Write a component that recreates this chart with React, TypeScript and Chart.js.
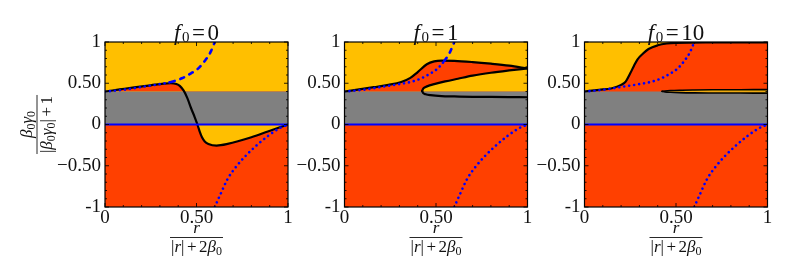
import { useEffect, useRef } from "react";
import { Chart, registerables } from "chart.js";

Chart.register(...registerables);

const W = 793;
const H = 277;

// ---------------- data ----------------
const xMajorTicks = [0, 0.5, 1];
const xTickLabels = ["0", "0.50", "1"];
const xMinorTicks = [0.1, 0.2, 0.3, 0.4, 0.6, 0.7, 0.8, 0.9];
const yMajorTicks = [-1, -0.5, 0, 0.5, 1];
const yTickLabels = ["-1", "\u22120.50", "0", "0.50", "1"];
const yMinorTicks = [-0.9, -0.8, -0.7, -0.6, -0.4, -0.3, -0.2, -0.1, 0.1, 0.2, 0.3, 0.4, 0.6, 0.7, 0.8, 0.9];

const panelF0 = ["0", "1", "10"];

const edgeX = [0, 1];
const ceilingY = [1, 1];
const greyTopY = [0.4, 0.4];
const zeroY = [0, 0];
const yFloor = -1;
const yCeil = 1;
const greyBandTop = 0.4;
const greyBandBottom = 0;

// blue guide curves (same in all panels)
const upperBlueX = [0, 0.1, 0.2, 0.3, 0.36, 0.42, 0.47, 0.51, 0.545, 0.575, 0.6];
const upperBlueY = [0.4, 0.42, 0.455, 0.49, 0.515, 0.56, 0.62, 0.68, 0.77, 0.87, 1.0];
const lowerBlueX = [0.6, 0.63, 0.67, 0.71, 0.76, 0.82, 0.89, 0.95, 1];
const lowerBlueY = [-1, -0.85, -0.66, -0.53, -0.4, -0.27, -0.14, -0.05, 0];
// x from which the upper blue curve is dashed instead of dotted
const dashFromX = [0.36, 0.545, Infinity];

// f0 = 0
const f0X = [0, 0.08, 0.16, 0.25, 0.32, 0.36, 0.39, 0.41, 0.43, 0.45, 0.47, 0.49, 0.505, 0.518, 0.53, 0.545, 0.565, 0.61, 0.67, 0.8, 0.89, 1];
const f0Y = [0.4, 0.425, 0.45, 0.475, 0.495, 0.5, 0.49, 0.465, 0.41, 0.32, 0.2, 0.09, 0, -0.09, -0.155, -0.205, -0.235, -0.255, -0.235, -0.155, -0.085, 0];

// f0 = 1
const f1UpperX = [0, 0.08, 0.16, 0.24, 0.31, 0.36, 0.4, 0.45, 0.49, 0.53, 0.6, 0.7, 0.8, 0.9, 1];
const f1UpperY = [0.4, 0.425, 0.452, 0.48, 0.515, 0.565, 0.635, 0.73, 0.765, 0.775, 0.772, 0.757, 0.737, 0.713, 0.68];
const f1InnerX = [0.424, 0.43, 0.443, 0.465, 0.49, 0.55, 0.62, 0.7, 0.8, 0.9, 1];
const f1InnerY = [0.405, 0.435, 0.455, 0.474, 0.49, 0.522, 0.555, 0.592, 0.627, 0.655, 0.68];
const f1LowerX = [0.424, 0.43, 0.443, 0.47, 0.53, 0.6, 0.7, 0.8, 0.9, 1];
const f1LowerY = [0.405, 0.38, 0.367, 0.355, 0.343, 0.34, 0.336, 0.334, 0.332, 0.33];

// f0 = 10
const f10UpperX = [0, 0.08, 0.15, 0.2, 0.225, 0.25, 0.27, 0.29, 0.32, 0.35, 0.4, 0.45, 0.5, 0.7, 1];
const f10UpperY = [0.4, 0.42, 0.44, 0.48, 0.52, 0.62, 0.71, 0.79, 0.86, 0.915, 0.96, 0.982, 0.99, 0.995, 0.996];
const f10SliverX = [0.424, 0.44, 0.47, 0.52, 0.6, 0.7, 0.85, 1];
const f10SliverTopY = [0.402, 0.407, 0.412, 0.416, 0.419, 0.421, 0.422, 0.423];
const f10SliverBotY = [0.402, 0.395, 0.39, 0.386, 0.383, 0.382, 0.381, 0.38];

// ---------------- styles / layout ----------------
const RED = "#FF4000";
const YELLOW = "#FFBF00";
const GREY = "#808080";
const BLUE = "#0000FF";
const BLACK = "#000000";
const TEXT = "#111111";
const SERIF = '"Liberation Serif"';
const DOTTED = [0.01, 5];
const DASHED = [4, 6];

const PLOT_LEFT = [105, 344.5, 584.5];
const PLOT_WIDTH = 183;
const PLOT_TOP = 42;
const PLOT_BOTTOM = 207;
const Y_AXIS_W = 50;
const X_AXIS_H = 30;

const pts = (xs: number[], ys: number[]) => xs.map((x, i) => ({ x, y: ys[i] }));

const areaDs = (data: any[], fill: any, color: string) => ({
  data,
  fill,
  backgroundColor: color,
  borderWidth: 0,
  pointRadius: 0,
  cubicInterpolationMode: "monotone",
});

const strokeDs = (data: any[], color: string, width: number, extra: any = {}) => ({
  data,
  fill: false,
  borderColor: color,
  borderWidth: width,
  pointRadius: 0,
  cubicInterpolationMode: "monotone",
  borderCapStyle: "round",
  borderJoinStyle: "round",
  ...extra,
});

function blueLayers(panel: number) {
  const split = dashFromX[panel];
  return [
    strokeDs(pts(edgeX, zeroY), BLUE, 2.2),
    strokeDs(pts(lowerBlueX, lowerBlueY), BLUE, 2.6, { borderDash: DOTTED }),
    strokeDs(pts(upperBlueX, upperBlueY), BLUE, 2.6, {
      borderDash: DOTTED,
      segment: {
        borderDash: (c: any) => (c.p0.parsed.x >= split - 1e-9 ? DASHED : DOTTED),
      },
    }),
  ];
}

function panelLayers(panel: number) {
  const base = areaDs(pts(edgeX, ceilingY), { value: yFloor }, RED);
  const grey = areaDs(pts(edgeX, greyTopY), { value: greyBandBottom }, GREY);
  if (panel === 0) {
    return [
      base,
      areaDs(pts(edgeX, ceilingY), { value: greyBandTop }, YELLOW),
      areaDs(pts(f0X, f0Y), { target: { value: greyBandTop }, above: RED, below: YELLOW }, RED),
      grey,
      strokeDs(pts(f0X, f0Y), BLACK, 2.2),
      ...blueLayers(panel),
    ];
  }
  if (panel === 1) {
    return [
      base,
      areaDs(pts(edgeX, ceilingY), { value: greyBandTop }, YELLOW),
      areaDs(pts(f1UpperX, f1UpperY), { value: greyBandTop }, RED),
      areaDs(pts(f1InnerX, f1InnerY), { value: greyBandTop }, YELLOW),
      grey,
      strokeDs(pts(f1UpperX, f1UpperY), BLACK, 2.2),
      strokeDs(pts(f1InnerX, f1InnerY), BLACK, 2.2),
      strokeDs(pts(f1LowerX, f1LowerY), BLACK, 2.2),
      ...blueLayers(panel),
    ];
  }
  return [
    base,
    areaDs(pts(f10UpperX, f10UpperY), { value: yCeil }, YELLOW),
    grey,
    areaDs(pts(f10SliverX, f10SliverTopY), { value: greyBandTop }, YELLOW),
    areaDs(pts(f10SliverX, f10SliverBotY), { value: greyBandTop }, YELLOW),
    strokeDs(pts(f10UpperX, f10UpperY), BLACK, 2.2),
    strokeDs(pts(f10SliverX, f10SliverTopY), BLACK, 1.6),
    strokeDs(pts(f10SliverX, f10SliverBotY), BLACK, 1.6),
    ...blueLayers(panel),
  ];
}

// frame + inward tick marks on all four sides
const framePlugin = {
  id: "frameTicks",
  afterDatasetsDraw(chart: any) {
    const { ctx, chartArea: a, scales } = chart;
    const xs = scales.x;
    const ys = scales.y;
    ctx.save();
    ctx.strokeStyle = "rgba(0,0,0,0.85)";
    ctx.lineWidth = 1;
    ctx.beginPath();
    const xt = (v: number, len: number) => {
      const px = xs.getPixelForValue(v);
      ctx.moveTo(px, a.bottom);
      ctx.lineTo(px, a.bottom - len);
      ctx.moveTo(px, a.top);
      ctx.lineTo(px, a.top + len);
    };
    const yt = (v: number, len: number) => {
      const py = ys.getPixelForValue(v);
      ctx.moveTo(a.left, py);
      ctx.lineTo(a.left + len, py);
      ctx.moveTo(a.right, py);
      ctx.lineTo(a.right - len, py);
    };
    xMajorTicks.forEach((v) => xt(v, 4));
    xMinorTicks.forEach((v) => xt(v, 2));
    yMajorTicks.forEach((v) => yt(v, 4));
    yMinorTicks.forEach((v) => yt(v, 2));
    ctx.stroke();
    ctx.strokeStyle = BLACK;
    ctx.lineWidth = 1.2;
    ctx.strokeRect(a.left, a.top, a.right - a.left, a.bottom - a.top);
    ctx.restore();
  },
};

type Part = { t: string; font: string; dy?: number; sl?: number; sr?: number };

function drawRich(ctx: CanvasRenderingContext2D, parts: Part[], cx: number, baseline: number) {
  let total = 0;
  const widths = parts.map((p) => {
    ctx.font = p.font;
    const w = ctx.measureText(p.t).width;
    total += w + (p.sl || 0) + (p.sr || 0);
    return w;
  });
  let x = cx - total / 2;
  ctx.textAlign = "left";
  ctx.textBaseline = "alphabetic";
  parts.forEach((p, i) => {
    x += p.sl || 0;
    ctx.font = p.font;
    ctx.fillText(p.t, x, baseline + (p.dy || 0));
    x += widths[i] + (p.sr || 0);
  });
  return total;
}

const up = (s: number) => `${s}px ${SERIF}`;
const it = (s: number) => `italic ${s}px ${SERIF}`;

function makeTextPlugin(panel: number) {
  return {
    id: "texts" + panel,
    afterDraw(chart: any) {
      const { ctx, chartArea: a } = chart;
      const cx = (a.left + a.right) / 2;
      ctx.save();
      ctx.fillStyle = TEXT;
      ctx.strokeStyle = TEXT;

      // title  f_0 = value
      drawRich(
        ctx,
        [
          { t: "f", font: it(23), sr: 1.5 },
          { t: "0", font: up(15), dy: 2 },
          { t: "=", font: up(23), sl: 2.5, sr: 2.5 },
          { t: panelF0[panel], font: up(23) },
        ],
        cx,
        a.top - 2
      );

      // x label: r / (|r| + 2 beta_0)
      drawRich(ctx, [{ t: "r", font: it(17) }], cx, a.bottom + 25.5);
      const dw = drawRich(
        ctx,
        [
          { t: "|", font: up(17) },
          { t: "r", font: it(17) },
          { t: "|", font: up(17) },
          { t: "+", font: up(17), sl: 2.5, sr: 2.5 },
          { t: "2", font: up(17) },
          { t: "\u03B2", font: it(17) },
          { t: "0", font: up(12), dy: 3 },
        ],
        cx,
        a.bottom + 44.5
      );
      ctx.lineWidth = 0.9;
      ctx.beginPath();
      ctx.moveTo(cx - dw / 2 - 1, a.bottom + 30.5);
      ctx.lineTo(cx + dw / 2 + 1, a.bottom + 30.5);
      ctx.stroke();

      // y label (first panel only): beta0 gamma0 / (|beta0 gamma0| + 1)
      if (panel === 0) {
        ctx.translate(a.left - 68, (a.top + a.bottom) / 2);
        ctx.rotate(-Math.PI / 2);
        drawRich(
          ctx,
          [
            { t: "\u03B2", font: it(17) },
            { t: "0", font: up(12), dy: 3 },
            { t: "\u03B3", font: it(17) },
            { t: "0", font: up(12), dy: 3 },
          ],
          0,
          -5
        );
        const yw = drawRich(
          ctx,
          [
            { t: "|", font: up(17) },
            { t: "\u03B2", font: it(17) },
            { t: "0", font: up(12), dy: 3 },
            { t: "\u03B3", font: it(17) },
            { t: "0", font: up(12), dy: 3 },
            { t: "|", font: up(17) },
            { t: "+", font: up(17), sl: 2.5, sr: 2.5 },
            { t: "1", font: up(17) },
          ],
          0,
          14.5
        );
        ctx.lineWidth = 0.9;
        ctx.beginPath();
        ctx.moveTo(-yw / 2 - 1, 0);
        ctx.lineTo(yw / 2 + 1, 0);
        ctx.stroke();
      }
      ctx.restore();
    },
  };
}

function makeConfig(panel: number): any {
  const left = PLOT_LEFT[panel];
  const right = left + PLOT_WIDTH;
  const layers = panelLayers(panel);
  const datasets = layers.map((d, i) => ({ ...d, order: layers.length - i }));
  return {
    type: "line",
    data: { datasets },
    options: {
      responsive: false,
      animation: false,
      events: [],
      layout: {
        padding: {
          left: left - Y_AXIS_W,
          right: W - right,
          top: PLOT_TOP,
          bottom: H - PLOT_BOTTOM - X_AXIS_H,
        },
      },
      plugins: {
        legend: { display: false },
        tooltip: { enabled: false },
        title: { display: false },
        filler: { drawTime: "beforeDatasetDraw", propagate: false },
      },
      elements: { point: { radius: 0 }, line: { tension: 0 } },
      scales: {
        x: {
          type: "linear",
          min: 0,
          max: 1,
          grid: { display: false, drawTicks: false },
          border: { display: false },
          afterFit: (s: any) => {
            s.height = X_AXIS_H;
          },
          afterBuildTicks: (s: any) => {
            s.ticks = xMajorTicks.map((v) => ({ value: v }));
          },
          ticks: {
            autoSkip: false,
            maxRotation: 0,
            padding: 0,
            color: TEXT,
            font: { family: SERIF, size: 19 },
            callback: (_v: any, i: number) => xTickLabels[i],
          },
        },
        y: {
          type: "linear",
          min: -1,
          max: 1,
          grid: { display: false, drawTicks: false },
          border: { display: false },
          afterFit: (s: any) => {
            s.width = Y_AXIS_W;
          },
          afterBuildTicks: (s: any) => {
            s.ticks = yMajorTicks.map((v) => ({ value: v }));
          },
          ticks: {
            autoSkip: false,
            padding: 4,
            color: TEXT,
            font: { family: SERIF, size: 19 },
            callback: (_v: any, i: number) => yTickLabels[i],
          },
        },
      },
    },
    plugins: [framePlugin, makeTextPlugin(panel)],
  };
}

export default function App() {
  const r0 = useRef<HTMLCanvasElement | null>(null);
  const r1 = useRef<HTMLCanvasElement | null>(null);
  const r2 = useRef<HTMLCanvasElement | null>(null);
  const refs = [r0, r1, r2];

  useEffect(() => {
    const charts = refs.map((r, i) => new Chart(r.current as HTMLCanvasElement, makeConfig(i)));
    return () => charts.forEach((c) => c.destroy());
  }, []);

  return (
    <div style={{ position: "absolute", left: 0, top: 0, width: W, height: H, background: "#fff" }}>
      {refs.map((r, i) => (
        <canvas
          key={i}
          ref={r}
          width={W}
          height={H}
          style={{ position: "absolute", left: 0, top: 0, width: W, height: H }}
        />
      ))}
    </div>
  );
}
